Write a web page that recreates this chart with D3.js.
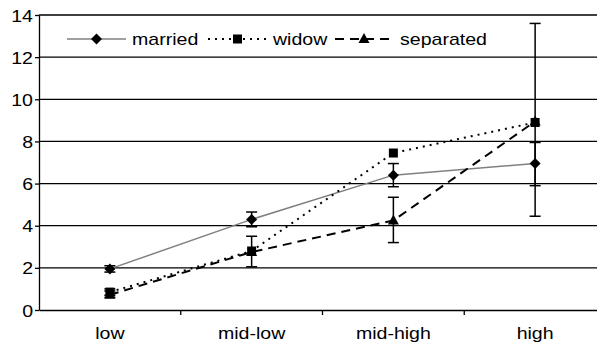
<!DOCTYPE html>
<html>
<head>
<meta charset="utf-8">
<script src="https://cdn.jsdelivr.net/npm/d3@7"></script>
<style>
  body{margin:0;background:#fff;}
  svg text{font-family:"Liberation Sans",Arial,sans-serif;fill:#000;}
</style>
</head>
<body>
<svg id="chart" width="597" height="348"></svg>
<script>
const categories = ["low","mid-low","mid-high","high"];
const yTicks = [0,2,4,6,8,10,12,14];

// mean values per group
const married   = [1.95, 4.3, 6.4, 6.95];
const widow     = [0.85, 2.8, 7.45, 8.9];
const separated = [0.72, 2.75, 4.25, 8.95];

// error bars [low, high]
const marriedErr   = [[1.8,2.1],[3.95,4.65],[5.85,6.95],[5.9,7.95]];
const widowErr     = [[0.7,1.0],[2.05,3.5],null,null];
const separatedErr = [[0.6,0.9],null,[3.2,5.35],[4.45,13.6]];

const series = [
  {name:"married", values:married, err:marriedErr, color:"#808080", width:1.5, dash:null, marker:"diamond"},
  {name:"widow", values:widow, err:widowErr, color:"#000", width:2, dash:"2,5", marker:"square"},
  {name:"separated", values:separated, err:separatedErr, color:"#000", width:2, dash:"9,6", marker:"triangle"}
];

const svg = d3.select("#chart");
const mLeft = 39, mRight = 606, mTop = 15, mBottom = 310;
const FS = 17, STRETCH = 1.15;

// the reference font is a bit wider than Liberation Sans, stretch it
function stretch(sel){
  sel.each(function(){
    const w = this.getComputedTextLength();
    d3.select(this).attr("textLength", w*STRETCH).attr("lengthAdjust","spacingAndGlyphs");
  });
}

const x = d3.scaleBand().domain(categories).range([mLeft,mRight]);
const y = d3.scaleLinear().domain([0,14]).range([mBottom,mTop]);

// gridlines
svg.append("g").selectAll("line").data(yTicks.filter(d=>d>0)).enter().append("line")
  .attr("x1",mLeft).attr("x2",mRight)
  .attr("y1",d=>y(d)).attr("y2",d=>y(d))
  .attr("stroke","#000").attr("stroke-width",1.3);

// y axis
const yAxis = svg.append("g").attr("transform",`translate(${mLeft},0)`)
  .call(d3.axisLeft(y).tickValues(yTicks).tickSize(4).tickSizeOuter(0));
yAxis.select(".domain").attr("stroke","#000").attr("stroke-width",1.3);
yAxis.selectAll(".tick line").attr("stroke","#000").attr("stroke-width",1.3);
yAxis.selectAll("text").attr("font-size",FS).attr("x",-6).attr("dy","0.36em").call(stretch);

// x axis
const xAxis = svg.append("g").attr("transform",`translate(0,${mBottom})`)
  .call(d3.axisBottom(x).tickSize(0).tickSizeOuter(0));
xAxis.select(".domain").attr("stroke","#000").attr("stroke-width",1.3);
xAxis.selectAll("text").attr("font-size",FS).attr("dy","1.5em").call(stretch);
// ticks between categories
svg.append("g").selectAll("line").data(categories.slice(1)).enter().append("line")
  .attr("x1",d=>x(d)).attr("x2",d=>x(d))
  .attr("y1",mBottom).attr("y2",mBottom+5)
  .attr("stroke","#000").attr("stroke-width",1.3);

const cx = d=>x(d)+x.bandwidth()/2;

function drawMarker(g, type, px, py){
  if(type==="diamond"){
    g.append("path").attr("d",`M${px},${py-5.5}L${px+5.5},${py}L${px},${py+5.5}L${px-5.5},${py}Z`).attr("fill","#000");
  } else if(type==="square"){
    g.append("rect").attr("x",px-4.5).attr("y",py-4.5).attr("width",9).attr("height",9).attr("fill","#000");
  } else {
    g.append("path").attr("d",`M${px},${py-6}L${px+5.5},${py+4}L${px-5.5},${py+4}Z`).attr("fill","#000");
  }
}

const line = d3.line().x(d=>cx(d.c)).y(d=>y(d.v));

series.forEach(s=>{
  const pts = categories.map((c,i)=>({c, v:s.values[i]}));
  svg.append("path").datum(pts)
    .attr("d",line).attr("fill","none")
    .attr("stroke",s.color).attr("stroke-width",s.width)
    .attr("stroke-dasharray",s.dash);
});

// error bars
series.forEach(s=>{
  const g = svg.append("g");
  s.err.forEach((e,i)=>{
    if(!e) return;
    const px = cx(categories[i]);
    g.append("line").attr("x1",px).attr("x2",px).attr("y1",y(e[0])).attr("y2",y(e[1]))
      .attr("stroke","#000").attr("stroke-width",1.5);
    e.forEach(v=>{
      g.append("line").attr("x1",px-5.5).attr("x2",px+5.5).attr("y1",y(v)).attr("y2",y(v))
        .attr("stroke","#000").attr("stroke-width",1.5);
    });
  });
});

// markers
series.forEach(s=>{
  const g = svg.append("g");
  s.values.forEach((v,i)=> drawMarker(g, s.marker, cx(categories[i]), y(v)));
});

// legend
const legendItems = [
  {s:series[0], x0:67, x1:126, tx:132},
  {s:series[1], x0:208, x1:267, tx:273},
  {s:series[2], x0:335, x1:393, tx:400}
];
const ly = 39;
const lg = svg.append("g");
legendItems.forEach(it=>{
  lg.append("line").attr("x1",it.x0).attr("x2",it.x1).attr("y1",ly).attr("y2",ly)
    .attr("stroke",it.s.color).attr("stroke-width",it.s.width).attr("stroke-dasharray",it.s.dash);
  drawMarker(lg, it.s.marker, (it.x0+it.x1)/2, ly);
  lg.append("text").attr("x",it.tx).attr("y",ly).attr("dy","0.36em").attr("font-size",FS)
    .text(it.s.name).call(stretch);
});
</script>
</body>
</html>
